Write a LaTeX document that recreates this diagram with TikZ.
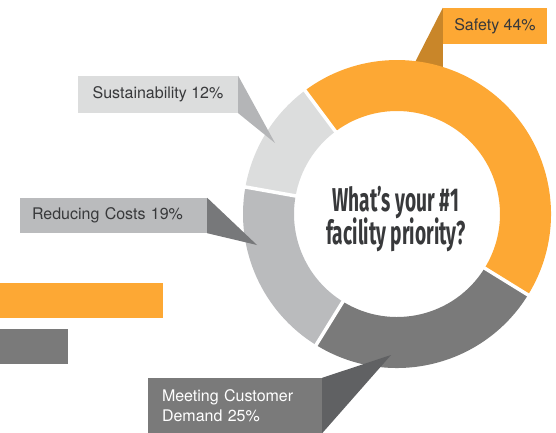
\documentclass[tikz,border=0pt]{standalone}
\usepackage{fontspec}
\setmainfont{TeX Gyre Heros}
\newfontfamily\titlefont[FakeStretch=0.58]{Fira Sans}
\usetikzlibrary{calc}

\definecolor{pOrange}{HTML}{FDA834}
\definecolor{pOrangeDk}{HTML}{C98629}
\definecolor{pLight}{HTML}{DCDDDD}
\definecolor{pLightDk}{HTML}{B4B5B7}
\definecolor{pMid}{HTML}{BABBBD}
\definecolor{pMidDk}{HTML}{77787A}
\definecolor{pDark}{HTML}{7A7A7A}
\definecolor{pDarkDk}{HTML}{606163}
\definecolor{pText}{HTML}{38393B}

\begin{document}
\begin{tikzpicture}[x=1pt, y=1pt,
	callout/.style={rectangle, inner sep=0pt, text=pText, font=\fontsize{16}{20}\selectfont},
	sep/.style={draw=white, line width=3.5pt}]
					\useasboundingbox (0,0) rectangle (556,-433);
					\coordinate (O) at (397,-214);
					\node[callout, fill=pOrange, minimum width=104, minimum height=36] (safety) at (495,-26) {Safety 44\%};
					\node[callout, fill=pLight, minimum width=160, minimum height=37] (sustain) at (158,-94.5) {Sustainability 12\%};
					\node[callout, fill=pMid, text width=163, inner xsep=12, align=left, minimum height=35] (costs) at (113.5,-215.5) {Reducing Costs 19\%};
					\node[callout, fill=pDark, text=white, text width=146, inner xsep=14, align=left, minimum height=55] (demand) at (235,-405.5) {Meeting Customer\\Demand 25\%};
					\coordinate (tipSafety) at (410,-72);
					\coordinate (tipSustain) at (275,-143);
					\coordinate (tipCosts) at (257,-245);
					\coordinate (tipDemand) at (391,-355);
					\fill[pOrangeDk] (safety.north west) -- ($(safety.south west)+(0,-23)$) -- (tipSafety) -- cycle;
					\foreach \a/\b/\c in {-31.7/126.7/pOrange, 126.7/169.9/pLight, 169.9/238.3/pMid, 238.3/328.3/pDark}
						\fill[\c] ($(O)+(\a:154)$) arc[start angle=\a, end angle=\b, radius=154] -- ($(O)+(\b:103)$) arc[start angle=\b, end angle=\a, radius=103] -- cycle;
					\foreach \a in {-31.7, 126.7, 169.9, 238.3}
						\draw[sep] ($(O)+(\a:98)$) -- ($(O)+(\a:160)$);
					\fill[pLightDk] (sustain.north east) -- (tipSustain) -- (sustain.south east) -- cycle;
					\fill[pMidDk] (costs.north east) -- (tipCosts) -- (costs.south east) -- cycle;
					\fill[pDarkDk] (demand.north east) -- (tipDemand) -- (demand.south east) -- cycle;
					\node[text=pText, align=center, font=\titlefont\bfseries\fontsize{33}{30}\selectfont] (title) at (396,-219) {What’s your \#1\\[-3pt]facility priority?};
					\fill[pOrange] (0,-283) rectangle (163,-318);
					\fill[pDark] (0,-329) rectangle (68,-364);
				\end{tikzpicture}
\end{document}
